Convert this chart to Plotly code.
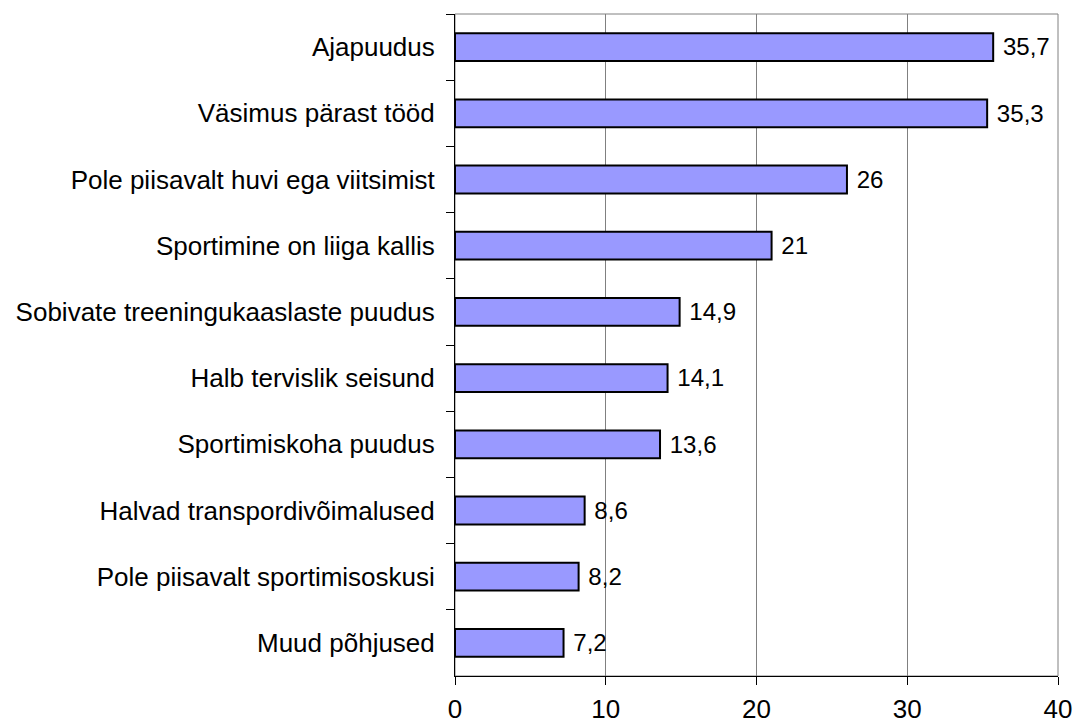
import plotly.graph_objects as go

categories = [
    "Ajapuudus",
    "Väsimus pärast tööd",
    "Pole piisavalt huvi ega viitsimist",
    "Sportimine on liiga kallis",
    "Sobivate treeningukaaslaste puudus",
    "Halb tervislik seisund",
    "Sportimiskoha puudus",
    "Halvad transpordivõimalused",
    "Pole piisavalt sportimisoskusi",
    "Muud põhjused",
]
values = [35.7, 35.3, 26, 21, 14.9, 14.1, 13.6, 8.6, 8.2, 7.2]
x_ticks = [0, 10, 20, 30, 40]

labels = [(" " + f"{v:g}").replace(".", ",") for v in values]

FONT = "Liberation Sans, Arial, sans-serif"
FS = 26

fig = go.Figure()
fig.add_trace(go.Bar(
    y=categories,
    x=values,
    orientation="h",
    marker=dict(color="#9999FF", line=dict(color="black", width=2)),
    text=labels,
    textposition="outside",
    textfont=dict(family=FONT, size=FS, color="black"),
    cliponaxis=False,
    hoverinfo="skip",
))

fig.add_shape(
    type="rect", xref="x domain", yref="y domain",
    x0=0, x1=1, y0=0, y1=1,
    line=dict(color="#808080", width=1), layer="below",
)

fig.update_layout(
    width=1074, height=722,
    margin=dict(l=455, r=16, t=14, b=46, autoexpand=False),
    paper_bgcolor="white", plot_bgcolor="white",
    bargap=0.58,
    showlegend=False,
    font=dict(family=FONT, size=FS, color="black"),
)
fig.update_xaxes(
    range=[0, 40], tickvals=x_ticks,
    showgrid=True, gridcolor="#808080", gridwidth=1,
    ticks="outside", ticklen=8, tickcolor="black", tickwidth=1,
    showline=True, linecolor="black", linewidth=1,
    zeroline=False, automargin=False,
    tickfont=dict(family=FONT, size=FS, color="black"),
    ticklabelstandoff=2,
)
fig.update_yaxes(
    autorange="reversed",
    tickson="boundaries",
    showgrid=False, automargin=False,
    ticks="outside", ticklen=8, tickcolor="black", tickwidth=1,
    showline=True, linecolor="black", linewidth=1,
    tickfont=dict(family=FONT, size=FS, color="black"),
    ticklabelstandoff=14,
)

fig.write_html(
    "out.html",
    config={"displayModeBar": False, "staticPlot": True},
    post_script="document.body.style.margin='0';document.body.style.overflow='hidden';",
)
